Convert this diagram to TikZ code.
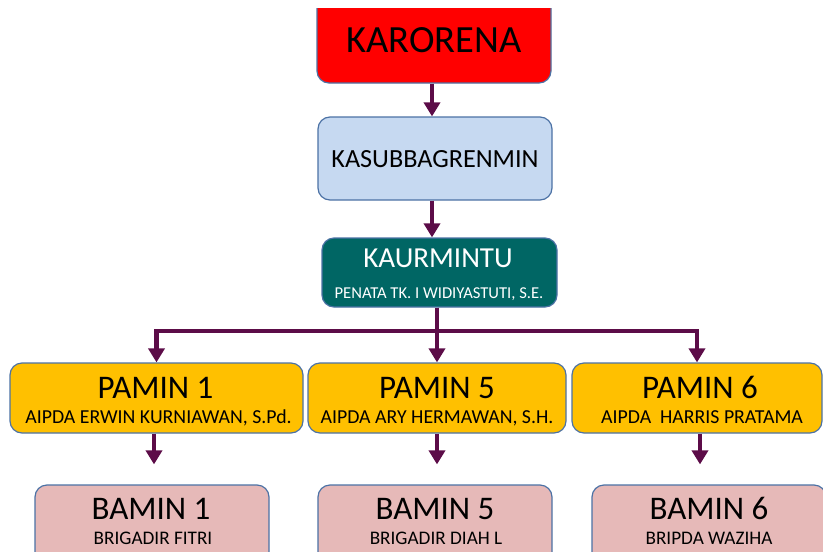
\documentclass[tikz,border=0pt]{standalone}
\usepackage{fontspec}
\setmainfont{Carlito}
\usetikzlibrary{arrows.meta}
\definecolor{bordc}{RGB}{76,114,165}
\definecolor{arrc}{RGB}{92,12,72}
\definecolor{lblue}{RGB}{198,217,241}
\definecolor{teal}{RGB}{0,102,100}
\definecolor{gold}{RGB}{255,192,0}
\definecolor{pink}{RGB}{230,185,184}
\tikzset{
  box/.style={draw=bordc, line width=1.2pt, rounded corners=12pt, inner sep=0pt},
  conn/.style={draw=arrc, line width=4.5pt, -{Triangle[width=16pt,length=14pt]}},
  fsize/.style={font=\fontsize{#1}{#1}\selectfont, anchor=base, inner sep=0pt}
}
\begin{document}
\begin{tikzpicture}[x=1pt,y=-1pt]
\useasboundingbox (0,0) rectangle (823,552);
\begin{scope}
\clip (0,8) rectangle (823,552);
% boxes
\node[box, fill=red, minimum width=234pt, minimum height=95pt] (karo) at (434,35.5) {};
\node[box, fill=lblue, minimum width=234pt, minimum height=83pt] (kasub) at (435,158.5) {};
\node[box, fill=teal, minimum width=235pt, minimum height=69pt] (kaur) at (439.5,272.5) {};
\node[box, fill=gold, minimum width=293pt, minimum height=70pt] (pamin1) at (156.5,398) {};
\node[box, fill=gold, minimum width=258pt, minimum height=70pt] (pamin5) at (437,398) {};
\node[box, fill=gold, minimum width=250pt, minimum height=70pt] (pamin6) at (697,398) {};
\node[box, fill=pink, minimum width=234pt, minimum height=90pt] (bamin1) at (152,530) {};
\node[box, fill=pink, minimum width=234pt, minimum height=90pt] (bamin5) at (435,530) {};
\node[box, fill=pink, minimum width=234pt, minimum height=90pt] (bamin6) at (709,530) {};
% texts
\node[fsize=38.5] (t1) at (434,52) {KARORENA};
\node[fsize=26.2] (t2) at (435,167) {KASUBBAGRENMIN};
\node[fsize=29] (t3) [text=white] at (438,267) {KAURMINTU};
\node[fsize=16.6, text=white] (t3b) at (439,298) {PENATA TK. I WIDIYASTUTI, S.E.};
\node[fsize=33] (t4) at (155.5,398) {PAMIN 1};
\node[fsize=19.8] (t4b) at (158.5,423) {AIPDA ERWIN KURNIAWAN, S.Pd.};
\node[fsize=33] (t5) at (437,398) {PAMIN 5};
\node[fsize=19.8] (t5b) at (437,423) {AIPDA ARY HERMAWAN, S.H.};
\node[fsize=33] (t6) at (700,398) {PAMIN 6};
\node[fsize=19.8] (t6b) at (702,423) {AIPDA\ \ HARRIS PRATAMA};
\node[fsize=33] (t7) at (151,519) {BAMIN 1};
\node[fsize=19.2] (t7b) at (153,544) {BRIGADIR FITRI};
\node[fsize=33] (t8) at (435,519) {BAMIN 5};
\node[fsize=19.2] (t8b) at (436,544) {BRIGADIR DIAH L};
\node[fsize=33] (t9) at (709,519) {BAMIN 6};
\node[fsize=19.2] (t9b) at (709,544) {BRIPDA WAZIHA};
\end{scope}
% connectors
\coordinate (bus) at (437,331);
\draw[conn] (karo.south -| 432,0) -- (kasub.north -| 432,0);
\draw[conn] (kasub.south -| 432,0) -- (kaur.north -| 432,0);
\draw[conn] (kaur.south -| bus) -- (bus) -| (pamin1.north);
\draw[conn] (kaur.south -| bus) -- (pamin5.north -| bus);
\draw[conn] (bus) -| (pamin6.north);
\draw[conn, shorten >=20pt] (pamin1.south -| 154,0) -- (bamin1.north -| 154,0);
\draw[conn, shorten >=20pt] (pamin5.south -| 437,0) -- (bamin5.north -| 437,0);
\draw[conn, shorten >=20pt] (pamin6.south -| 700,0) -- (bamin6.north -| 700,0);
\end{tikzpicture}
\end{document}
